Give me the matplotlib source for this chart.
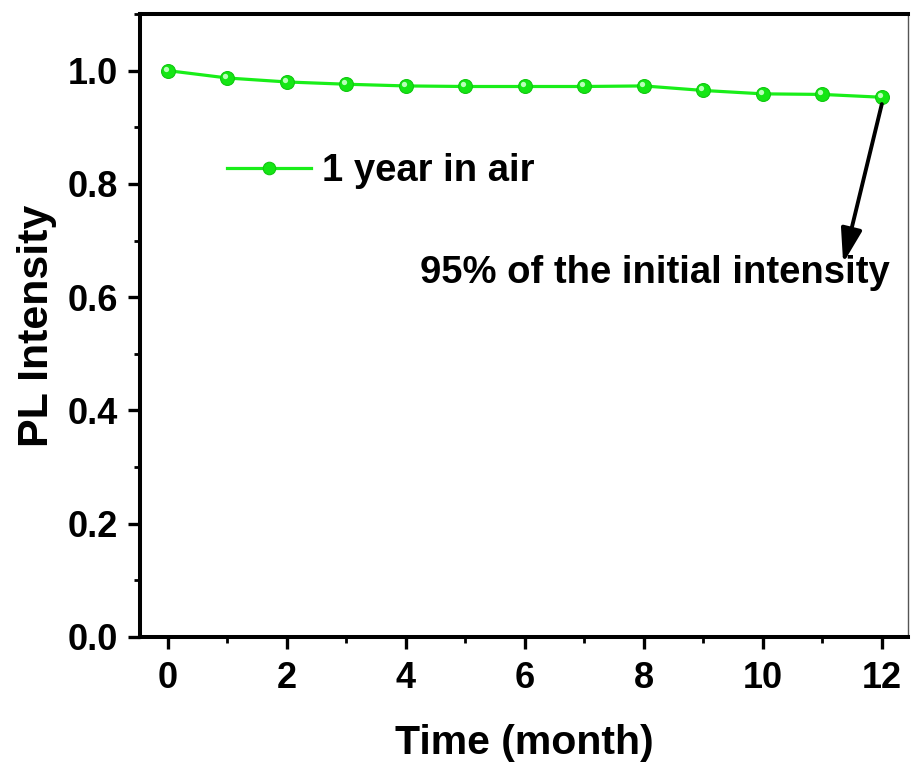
import matplotlib
matplotlib.use("Agg")
import matplotlib.pyplot as plt
from matplotlib.ticker import MultipleLocator
import matplotlib.transforms as mtransforms

plt.rcParams['font.family'] = ['Liberation Sans', 'DejaVu Sans']
plt.rcParams['font.weight'] = 'bold'

# PL intensity retained over one year of storage in air
months = [0, 1, 2, 3, 4, 5, 6, 7, 8, 9, 10, 11, 12]
intensity = [1.000, 0.987, 0.980, 0.976, 0.973, 0.972, 0.972, 0.972, 0.973,
             0.965, 0.959, 0.958, 0.953]
series_label = "1 year in air"
note_text = "95% of the initial intensity"
x_ticks = [0, 2, 4, 6, 8, 10, 12]
y_ticks = [0.0, 0.2, 0.4, 0.6, 0.8, 1.0]

W, H = 911, 769
fig = plt.figure(figsize=(W / 100, H / 100), dpi=100)
ax = fig.add_axes([140 / W, 1 - 637 / H, (908 - 140) / W, (637 - 14) / H])

green = '#19ee19'
line, = ax.plot(months, intensity, color=green, lw=2.3, marker='o', ms=10,
                mfc='#14e614', mec='#10c810', mew=0.8, label=series_label,
                zorder=3)
# small highlight on each ball marker
hl = mtransforms.offset_copy(ax.transData, fig=fig, x=-1.5, y=1.5, units='points')
ax.plot(months, intensity, ls='none', marker='o', ms=3.8, mfc='#b8ffb8',
        mec='none', transform=hl, zorder=4)

ax.set_xlim(-0.47, 12.44)
ax.set_ylim(0, 1.1)
ax.set_xticks(x_ticks)
ax.set_yticks(y_ticks)
ax.set_yticklabels([f"{v:.1f}" for v in y_ticks])
ax.xaxis.set_minor_locator(MultipleLocator(1))
ax.yaxis.set_minor_locator(MultipleLocator(0.1))

ax.tick_params(which='major', direction='out', length=8.5, width=2.4,
               labelsize=26)
ax.tick_params(axis='x', which='major', pad=9)
ax.tick_params(axis='y', which='major', pad=7)
ax.tick_params(which='minor', direction='out', length=4.5, width=2.0)
ax.tick_params(top=False, right=False)

for s in ['left', 'bottom', 'top']:
    ax.spines[s].set_linewidth(2.9)
ax.spines['right'].set_linewidth(1.0)
ax.spines['right'].set_color('#555555')

ax.set_xlabel("Time (month)", fontsize=29.5, fontweight='bold', labelpad=20)
ax.set_ylabel("PL Intensity", fontsize=31, fontweight='bold', labelpad=8)

leg = ax.legend(handles=[line], loc='center left',
                bbox_to_anchor=((227 - 140) / 768, (637 - 171) / 623),
                frameon=False, fontsize=27.5, handlelength=2.2,
                handletextpad=0.3, borderpad=0, borderaxespad=0,
                numpoints=1, markerscale=0.9)

ax.annotate("", xy=(11.35, 0.66), xytext=(months[-1], intensity[-1] - 0.012),
            arrowprops=dict(arrowstyle='-|>,head_length=1.3,head_width=0.4',
                            mutation_scale=16, color='black', lw=2.8,
                            shrinkA=0, shrinkB=0))
ax.text(12.13, 0.643, note_text, fontsize=27.5, fontweight='bold',
        ha='right', va='center')

fig.savefig("out.png", dpi=100)
